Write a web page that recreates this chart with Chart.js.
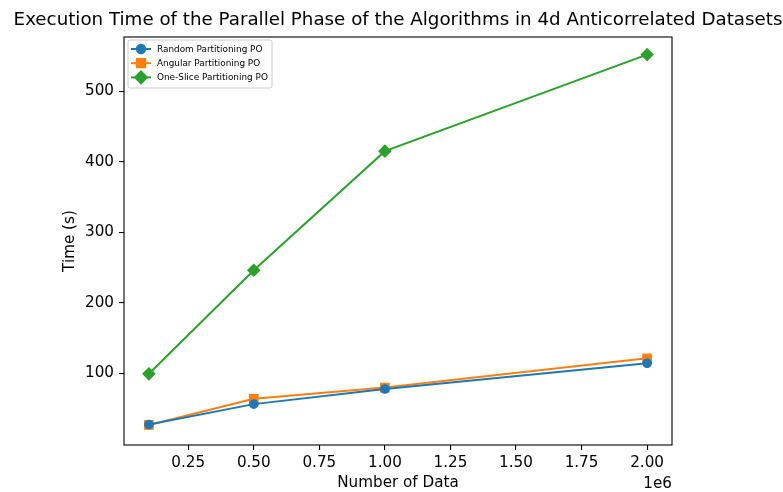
<!DOCTYPE html>
<html>
<head>
<meta charset="utf-8">
<script src="https://cdn.jsdelivr.net/npm/chart.js@4/dist/chart.umd.min.js"></script>
<style>
  html, body { margin: 0; padding: 0; background: #ffffff; }
  #wrap { width: 783px; height: 492px; }
</style>
</head>
<body>
<div id="wrap"><canvas id="c" width="783" height="492"></canvas></div>
<script>
// Dataset sizes (number of records) and measured parallel-phase times in seconds
const dataSizes = [100000, 500000, 1000000, 2000000];
const randomPO = [27, 56, 77.5, 114];
const angularPO = [26.5, 63.5, 79.5, 121];
const oneSlicePO = [99, 246, 415, 552];

const seriesNames = ['Random Partitioning PO', 'Angular Partitioning PO', 'One-Slice Partitioning PO'];
const xTicks = [250000, 500000, 750000, 1000000, 1250000, 1500000, 1750000, 2000000];
const yTicks = [100, 200, 300, 400, 500];

const titleText = 'Execution Time of the Parallel Phase of the Algorithms in 4d Anticorrelated Datasets';
const xTitle = 'Number of Data';
const yTitle = 'Time (s)';
const xOffsetText = '1e6';

const FONT = '"DejaVu Sans", sans-serif';
const TICK_SIZE = 15.2;
const colors = ['#1f77b4', '#ff7f0e', '#2ca02c'];
const styles = [
  { pointStyle: 'circle', radius: 4.2 },
  { pointStyle: 'rect', radius: 5.9 },
  { pointStyle: 'rectRot', radius: 5.9 }
];

const seriesValues = [randomPO, angularPO, oneSlicePO];
const datasets = seriesValues.map((vals, k) => ({
  label: seriesNames[k],
  data: dataSizes.map((x, i) => ({ x: x, y: vals[i] })),
  borderColor: colors[k],
  backgroundColor: colors[k],
  borderWidth: 2,
  pointStyle: styles[k].pointStyle,
  pointRadius: styles[k].radius,
  pointBorderWidth: 1.3,
  pointBorderColor: colors[k],
  pointBackgroundColor: colors[k],
  tension: 0
}));

// Frame, title, offset text and legend box in matplotlib style
const decorations = {
  id: 'decorations',
  afterDraw(chart) {
    const ctx = chart.ctx;
    const a = chart.chartArea;
    ctx.save();
    ctx.strokeStyle = '#000000';
    ctx.lineWidth = 1.1;
    ctx.strokeRect(a.left, a.top, a.right - a.left, a.bottom - a.top);

    ctx.fillStyle = '#000000';
    ctx.font = '18.25px ' + FONT;
    ctx.textAlign = 'center';
    ctx.textBaseline = 'alphabetic';
    ctx.fillText(titleText, (a.left + a.right) / 2, 25);

    ctx.font = TICK_SIZE + 'px ' + FONT;
    ctx.textAlign = 'right';
    ctx.textBaseline = 'middle';
    ctx.fillText(xOffsetText, a.right, 484);

    // legend
    const lx = a.left + 4, ly = a.top + 3, lw = 144, lh = 48;
    ctx.beginPath();
    ctx.roundRect(lx, ly, lw, lh, 2);
    ctx.fillStyle = 'rgba(255,255,255,0.8)';
    ctx.fill();
    ctx.strokeStyle = '#cccccc';
    ctx.lineWidth = 1;
    ctx.stroke();
    ctx.font = '8.9px ' + FONT;
    ctx.textAlign = 'left';
    ctx.textBaseline = 'middle';
    for (let k = 0; k < seriesNames.length; k++) {
      const y = ly + 9 + k * 14.2;
      ctx.strokeStyle = colors[k];
      ctx.lineWidth = 2;
      ctx.beginPath();
      ctx.moveTo(lx + 3, y);
      ctx.lineTo(lx + 23, y);
      ctx.stroke();
      ctx.fillStyle = colors[k];
      Chart.helpers.drawPoint(ctx, {
        pointStyle: styles[k].pointStyle,
        radius: styles[k].radius,
        borderWidth: 1.3,
        rotation: 0
      }, lx + 13, y);
      ctx.fillStyle = '#000000';
      ctx.fillText(seriesNames[k], lx + 29, y + 0.5);
    }
    ctx.restore();
  }
};

new Chart(document.getElementById('c'), {
  type: 'line',
  data: { datasets: datasets },
  plugins: [decorations],
  options: {
    responsive: false,
    animation: false,
    devicePixelRatio: 1,
    layout: { padding: { left: 0, top: 37, right: 111, bottom: 0 } },
    plugins: { legend: { display: false }, title: { display: false }, tooltip: { enabled: false } },
    scales: {
      x: {
        type: 'linear',
        min: 5000,
        max: 2095000,
        afterBuildTicks: (s) => { s.ticks = xTicks.map(v => ({ value: v })); },
        afterFit: (s) => { s.height = 47; },
        grid: { drawOnChartArea: false, drawTicks: true, tickLength: 5, color: '#000000', lineWidth: 1.1 },
        border: { display: false },
        ticks: {
          color: '#000000',
          font: { family: FONT, size: TICK_SIZE },
          padding: 4,
          maxRotation: 0,
          autoSkip: false,
          callback: (v) => (v / 1e6).toFixed(2)
        },
        title: { display: true, text: xTitle, color: '#000000', font: { family: FONT, size: TICK_SIZE }, padding: { top: 0, bottom: 0 } }
      },
      y: {
        type: 'linear',
        min: -2,
        max: 577,
        afterBuildTicks: (s) => { s.ticks = yTicks.map(v => ({ value: v })); },
        afterFit: (s) => { s.width = 124; },
        grid: { drawOnChartArea: false, drawTicks: true, tickLength: 5, color: '#000000', lineWidth: 1.1 },
        border: { display: false },
        ticks: {
          color: '#000000',
          font: { family: FONT, size: TICK_SIZE },
          padding: 5,
          autoSkip: false,
          callback: (v) => String(v)
        },
        title: { display: true, text: yTitle, color: '#000000', font: { family: FONT, size: TICK_SIZE }, padding: { top: 61, bottom: 0 } }
      }
    }
  }
});
</script>
</body>
</html>
